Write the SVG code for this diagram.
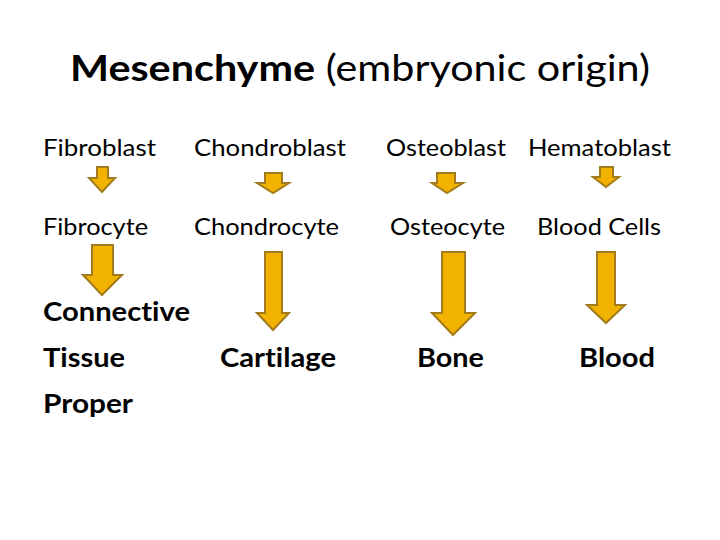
<svg xmlns="http://www.w3.org/2000/svg" width="720" height="540" viewBox="0 0 720 540">
<style>
text{font-family:"Lato","Open Sans","Liberation Sans",sans-serif;fill:#000;font-variant-ligatures:none}
.t{font-size:37px}
.n{font-size:23px}
.b{font-size:26px;font-weight:bold}
.arr{fill:#F2B200;stroke:#A27B1C;stroke-width:2;stroke-linejoin:miter}
</style>
<rect width="720" height="540" fill="#fff"/>
<g id="title"><text class="t" x="70" y="81" textLength="580" lengthAdjust="spacingAndGlyphs"><tspan font-weight="bold">Mesenchyme</tspan> (embryonic origin)</text></g>
<g id="fibroblast"><text class="n" x="43" y="156" textLength="113" lengthAdjust="spacingAndGlyphs">Fibroblast</text></g>
<g id="chondroblast"><text class="n" x="194" y="156" textLength="152" lengthAdjust="spacingAndGlyphs">Chondroblast</text></g>
<g id="osteoblast"><text class="n" x="386" y="156" textLength="120" lengthAdjust="spacingAndGlyphs">Osteoblast</text></g>
<g id="hematoblast"><text class="n" x="528" y="156" textLength="143" lengthAdjust="spacingAndGlyphs">Hematoblast</text></g>
<g id="fibrocyte"><text class="n" x="43" y="235" textLength="105" lengthAdjust="spacingAndGlyphs">Fibrocyte</text></g>
<g id="chondrocyte"><text class="n" x="194" y="235" textLength="145" lengthAdjust="spacingAndGlyphs">Chondrocyte</text></g>
<g id="osteocyte"><text class="n" x="390" y="235" textLength="115" lengthAdjust="spacingAndGlyphs">Osteocyte</text></g>
<g id="bloodcells"><text class="n" x="537" y="235" textLength="124" lengthAdjust="spacingAndGlyphs">Blood Cells</text></g>
<g id="ctp">
<text class="b" x="43" y="321" textLength="147" lengthAdjust="spacingAndGlyphs">Connective</text>
<text class="b" x="43" y="367" textLength="82" lengthAdjust="spacingAndGlyphs">Tissue</text>
<text class="b" x="43" y="413" textLength="90" lengthAdjust="spacingAndGlyphs">Proper</text>
</g>
<g id="cartilage"><text class="b" x="220" y="367" textLength="116" lengthAdjust="spacingAndGlyphs">Cartilage</text></g>
<g id="bone"><text class="b" x="417" y="367" textLength="67" lengthAdjust="spacingAndGlyphs">Bone</text></g>
<g id="blood"><text class="b" x="579" y="367" textLength="76" lengthAdjust="spacingAndGlyphs">Blood</text></g>
<g id="connectors">
<polygon class="arr" points="97,167 108,167 108,178 115,178 102,192 89,178 97,178"/>
<polygon class="arr" points="265,173 282,173 282,183 289,183 273,193 257,183 265,183"/>
<polygon class="arr" points="437,173 455,173 455,183 463,183 447,193 432,183 437,183"/>
<polygon class="arr" points="600,167 613,167 613,177 619,177 606,187 593,177 600,177"/>
<polygon class="arr" points="92,245 113,245 113,275 122,275 102,295 83,275 92,275"/>
<polygon class="arr" points="265,252 282,252 282,313 289,313 273,330 257,313 265,313"/>
<polygon class="arr" points="442,252 465,252 465,313 475,313 453,335 432,313 442,313"/>
<polygon class="arr" points="597,252 615,252 615,305 625,305 606,323 587,305 597,305"/>
</g>
</svg>
